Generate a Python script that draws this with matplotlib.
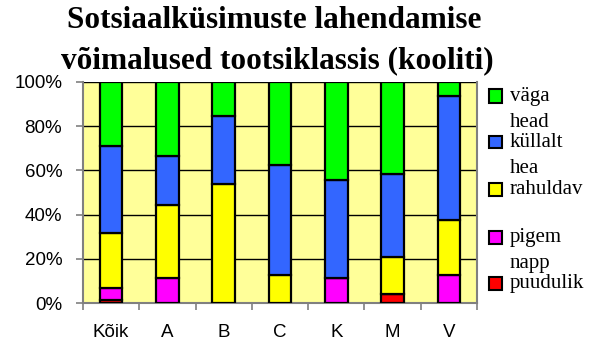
import matplotlib
matplotlib.use("Agg")
import matplotlib.pyplot as plt
from matplotlib.patches import Rectangle
import numpy as np

categories = ["Kõik", "A", "B", "C", "K", "M", "V"]
# stacked from bottom to top
puudulik   = [1.2, 0.0, 0.0, 0.0, 0.0, 4.2, 0.0]
pigem_napp = [5.5, 11.1, 0.0, 0.0, 11.1, 0.0, 12.5]
rahuldav   = [25.0, 33.3, 53.8, 12.5, 0.0, 16.7, 25.0]
kullalt    = [39.2, 22.2, 30.8, 50.0, 44.4, 37.5, 56.25]
vaga       = [29.1, 33.4, 15.4, 37.5, 44.5, 41.6, 6.25]

series = [puudulik, pigem_napp, rahuldav, kullalt, vaga]
colors = ["#FF0000", "#FF00FF", "#FFFF00", "#3366FF", "#00FF00"]
legend_labels = [("väga", "head"), ("küllalt", "hea"), ("rahuldav", ""),
                 ("pigem", "napp"), ("puudulik", "")]
legend_colors = ["#00FF00", "#3366FF", "#FFFF00", "#FF00FF", "#FF0000"]
yticks = [0, 20, 40, 60, 80, 100]
ytick_labels = ["0%", "20%", "40%", "60%", "80%", "100%"]
title_lines = ["Sotsiaalküsimuste lahendamise", "võimalused tootsiklassis (kooliti)"]

W, H = 595, 343
fig = plt.figure(figsize=(W / 100, H / 100), dpi=100)
fig.patch.set_facecolor("white")

ax = fig.add_axes([83 / W, 1 - 303 / H, (477 - 83) / W, (303 - 82) / H])
ax.set_facecolor("#FFFF99")

x = np.arange(len(categories))
bottom = np.zeros(len(categories))
for vals, col in zip(series, colors):
    v = np.array(vals)
    ax.bar(x, v, width=0.4, bottom=bottom, color=col, edgecolor="black",
           linewidth=1.6, zorder=3)
    bottom += v

ax.set_xlim(-0.5, len(categories) - 0.5)
ax.set_ylim(0, 100)
ax.set_yticks(yticks)
ax.set_yticklabels(ytick_labels, fontfamily="Liberation Sans", fontsize=13.5)
for yv in yticks[1:]:
    ax.axhline(yv, color="black", linewidth=1.0, zorder=1)

ax.set_xticks(x)
ax.set_xticklabels(categories, fontfamily="Liberation Sans", fontsize=13.5)
ax.tick_params(axis="x", length=0, pad=15)
ax.set_xticks(np.arange(len(categories) + 1) - 0.5, minor=True)
ax.tick_params(axis="x", which="minor", length=5, width=1.2, color="#808080", direction="out")
ax.tick_params(axis="y", length=5, width=1.2, color="#808080", direction="out", pad=10)

for side in ["left", "bottom", "right", "top"]:
    ax.spines[side].set_color("#808080")
    ax.spines[side].set_linewidth(1.5)
ax.spines["top"].set_visible(False)

# title
fig.text(274 / W, 1 - 28 / H, title_lines[0], ha="center", va="baseline",
         fontfamily="Liberation Serif", fontweight="bold", fontsize=22.5)
fig.text(277 / W, 1 - 68 / H, title_lines[1], ha="center", va="baseline",
         fontfamily="Liberation Serif", fontweight="bold", fontsize=22.5)

# legend
centers = [96, 142, 189, 237, 283]
for (l1, l2), col, cy in zip(legend_labels, legend_colors, centers):
    fig.add_artist(Rectangle((489 / W, 1 - (cy + 6.5) / H), 13 / W, 13 / H,
                             facecolor=col, edgecolor="black", linewidth=1.5,
                             transform=fig.transFigure))
    fig.text(510 / W, 1 - (cy + 5) / H, l1, ha="left", va="baseline",
             fontfamily="Liberation Serif", fontsize=15)
    if l2:
        fig.text(510 / W, 1 - (cy + 31) / H, l2, ha="left", va="baseline",
                 fontfamily="Liberation Serif", fontsize=15)

fig.savefig("out.png", dpi=100)
